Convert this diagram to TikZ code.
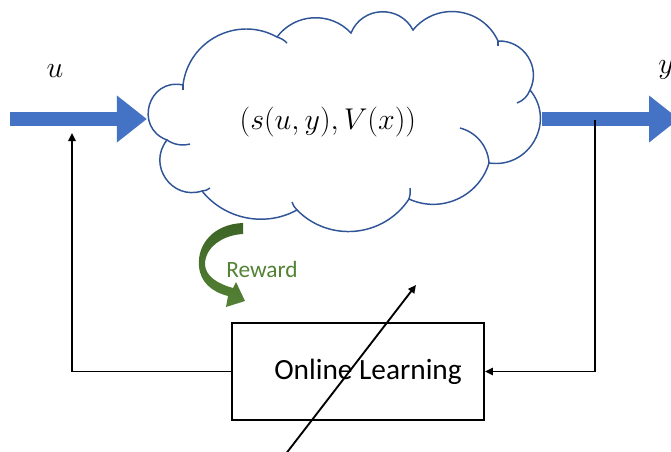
\RequirePackage{fix-cm}
\documentclass[tikz,border=0pt]{standalone}
\usepackage{fontspec}
\newfontfamily\calibri{Carlito}
\usetikzlibrary{arrows.meta,positioning}
\definecolor{officeblue}{RGB}{68,114,196}
\definecolor{cloudline}{RGB}{47,85,151}
\definecolor{rewardgreen}{RGB}{84,130,53}
\definecolor{rewarddark}{RGB}{61,100,37}
\begin{document}
\begin{tikzpicture}[x=0.75pt,y=-0.75pt,every node/.style={inner sep=0pt},
  fat/.style={line width=10.5pt,officeblue,-{Triangle[length=22.5pt,width=33.75pt]}},
  thin/.style={line width=1.4pt,-{Triangle[length=6pt,width=5.5pt]}},
  big/.style={font=\fontsize{22.5}{27}\selectfont},
  puff/.code={\pgfmathsetmacro\puffloose{2/3*tan(#1/2)/sin(#1)/0.3915}\tikzset{bend left=#1,looseness=\puffloose}}]
\clip (0,0) rectangle (671,451);
% plant
\node[minimum width=296pt,minimum height=166pt,big] (plant) at (344.5,122) {$(s(u,y),V(x))$\hspace*{25pt}};
\foreach \c/\x/\y in {1/183/85,2/277/37,3/351/33,4/413/30,5/498/41,6/530/90,7/489/163,8/409/199,9/297/210,10/202/191,11/167/140}
  \coordinate (c\c) at (\x,\y);
\begin{scope}[cloudline,line width=1.1pt]
\draw (c1) to[puff=56] (c2) to[puff=50] (c3) to[puff=65] (c4) to[puff=58] (c5) to[puff=59] (c6)
  to[puff=69] (c7) to[puff=49] (c8) to[puff=51] (c9) to[puff=40] (c10) to[puff=73] (c11) to[puff=86] (c1);
% inner arcs of the cloud
\draw (460,128) to[puff=36] (c7);
\draw (c11) to[puff=-25] (190,144);
\draw (c10) to[puff=-20] (210,188);
\draw (c9) to[puff=15] (292,202);
\draw (c8) to[puff=-15] (410,188);
\draw (c6) to[puff=25] (517,103);
\draw (c5) -- (498,46);
\draw (c2) to[puff=15] (287,43);
\draw (c1) -- (183,90);
\end{scope}
% learner block
\node[draw,line width=1.4pt,minimum width=189pt,minimum height=72.75pt,font=\calibri\fontsize{22}{26}\selectfont] (learn) at (358,371.5) {\hspace*{15pt}Online Learning};
% input / output signals
\coordinate (uin) at (10,119);
\coordinate (yout) at (679,119);
\draw[fat] (uin) -- (uin -| plant.west);
\draw[fat] (yout -| plant.east) -- (yout);
\node[big,anchor=base] (ulab) at (55,77) {$u$};
\node[big,anchor=base] (ylab) at (666,73) {$y$};
% feedback paths
\coordinate (ufb) at (72,133);
\coordinate (ytap) at (595,120);
\draw[thin] (learn.west) -| (ufb);
\draw[thin] (ytap) |- (learn.east);
% adaptation arrow
\coordinate (tunelo) at (285,455);
\coordinate (tunehi) at (416,285);
\draw[thin] (tunelo) -- (tunehi);
% reward
\shade[top color=rewarddark,bottom color=rewardgreen] (243,223) .. controls (214,224) and (197,244) .. (199,266) .. controls (200,282) and (212,292) .. (228,296) -- (226,307) -- (245,301) -- (236,282) -- (233,288) .. controls (218,284) and (205,276) .. (205,264) .. controls (205,248) and (222,235) .. (243,234) -- cycle;
\node[anchor=base,text=rewardgreen,font=\calibri\fontsize{17.5}{20}\selectfont] (rew) at (262,277) {Reward};
\end{tikzpicture}
\end{document}
